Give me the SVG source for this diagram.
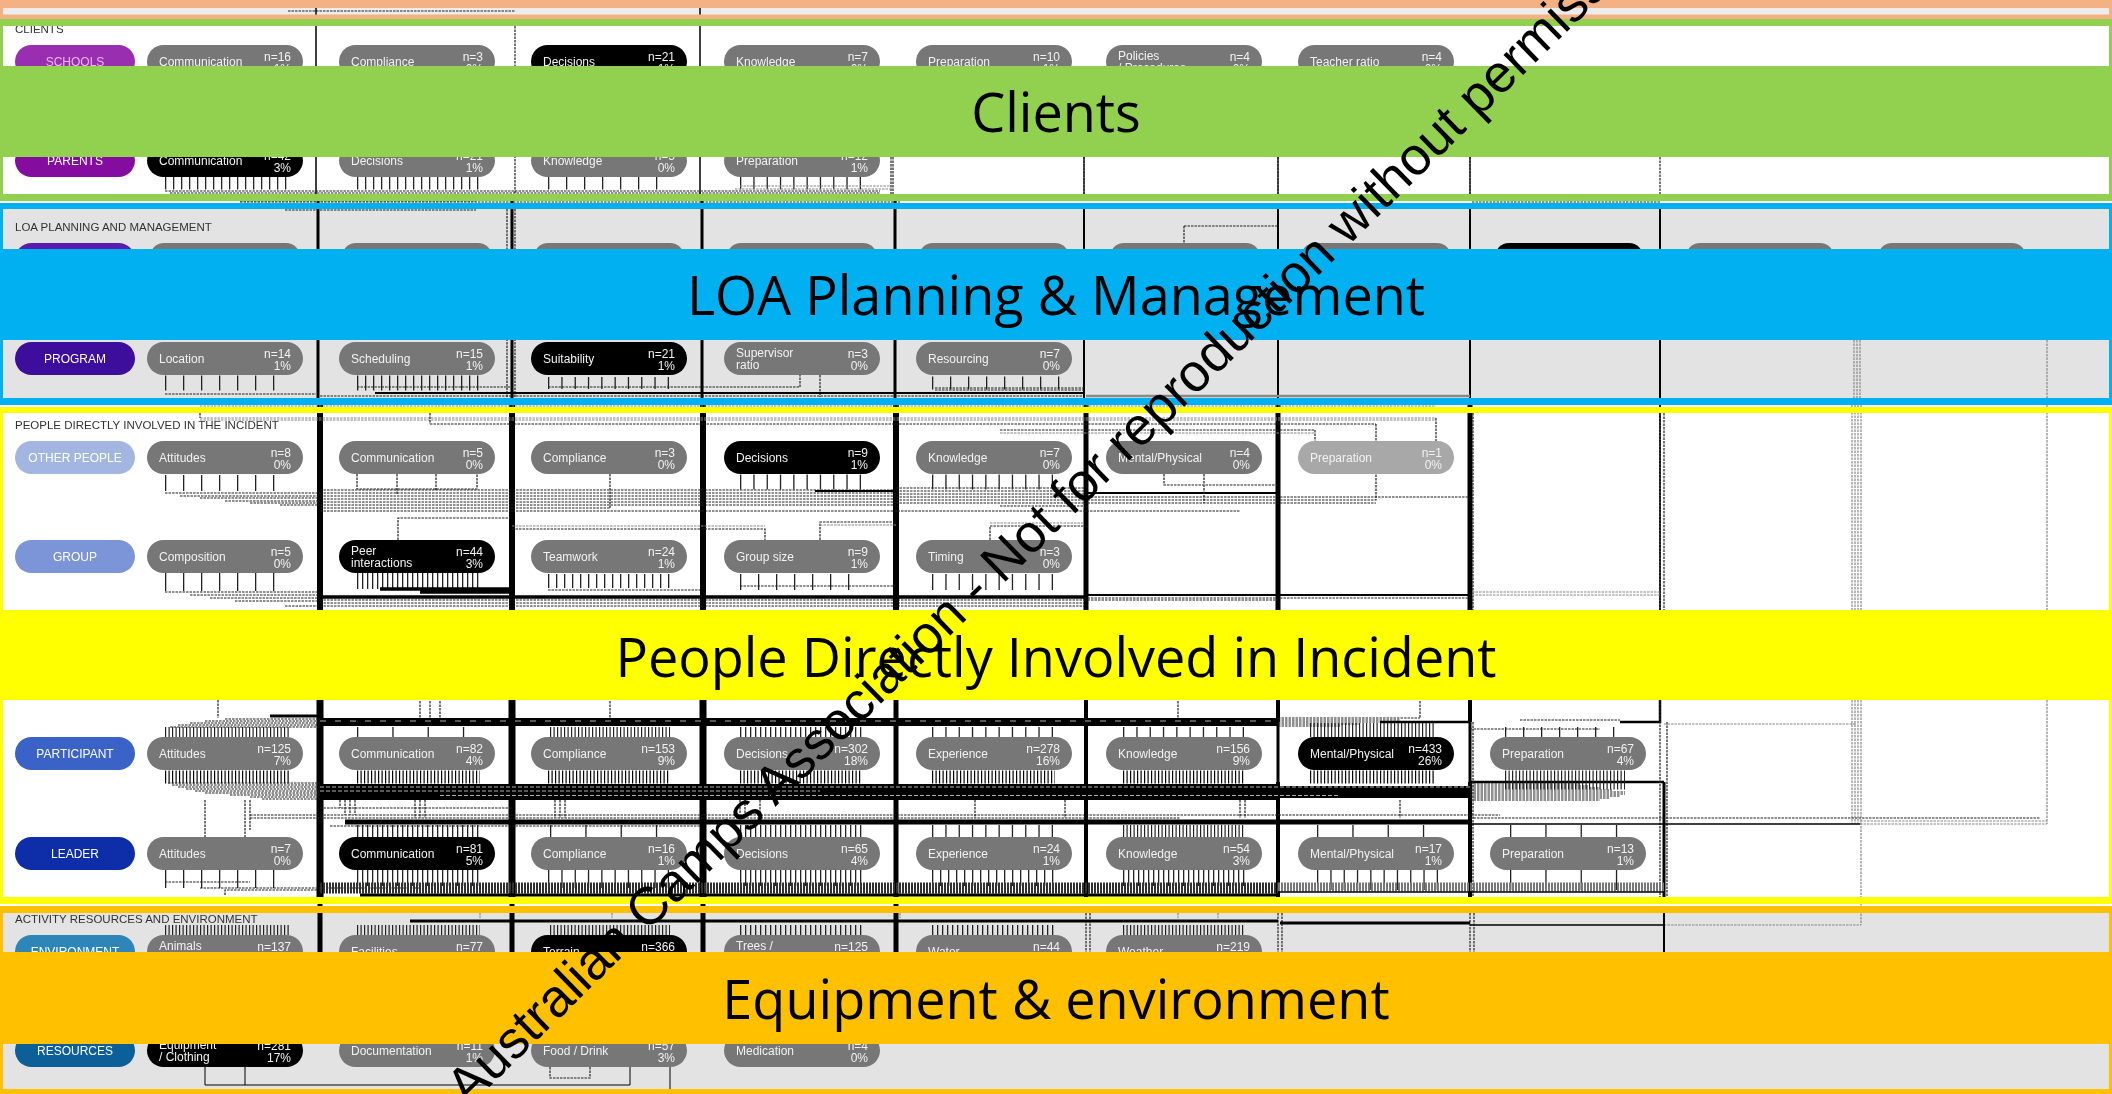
<svg xmlns="http://www.w3.org/2000/svg" width="2112" height="1094" viewBox="0 0 2112 1094">
<style>
text{font-family:"Liberation Sans",Arial,sans-serif}
.t{font-size:12px;fill:#f2f2f2}
.e{text-anchor:end}
.l{font-size:12px;fill:#fff;text-anchor:middle}
.h{font-size:11.5px;fill:#333}
.p{fill:#777}
.pb{fill:#000}
.v,.c,.k,.d,.g{fill:none}
.k{stroke:#000}
.d{stroke:#222;stroke-width:1.2;stroke-dasharray:2.5 1}
.g{stroke:#888;stroke-width:1.2;stroke-dasharray:2.5 1}
.c{stroke:#222}
.c3{stroke-dasharray:1.2 2.3}
.c5{stroke-dasharray:1.3 3.7}
.c8{stroke-dasharray:1.3 6.7}
.c13{stroke-dasharray:1.3 12}
.c18{stroke-dasharray:1.3 16.7}
.c35{stroke-dasharray:1.3 34}
.band{font-family:"Open Sans","Noto Sans",sans-serif;font-size:54px;fill:#000;text-anchor:middle}
.wm{font-family:"Liberation Sans",Arial,sans-serif;font-size:53px;fill:#000}
</style>
<defs><filter id="soft" x="0" y="0" width="100%" height="100%"><feGaussianBlur stdDeviation="0.7"/></filter></defs>
<rect width="2112" height="1094" fill="#fff"/>
<g id="diagram" filter="url(#soft)">
<g id="regions">
<rect x="0" y="8" width="2112" height="7" fill="#ececec"/>
<rect x="0" y="209" width="2112" height="189" fill="#e3e3e3"/>
<rect x="0" y="913" width="2112" height="176" fill="#e3e3e3"/>
</g>
<g id="connectors">
<!-- top strip -->
<path class="d" d="M288 11H515"/><path class="k" stroke-width="1.5" d="M316 8V15M700 8V15"/>
<!-- columns -->
<path class="k" stroke-width="1.5" d="M316 26V194M700 26V194"/>
<path class="d" d="M515 26V194M891 157V194M893 157V194M1084 157V194M1278 157V194M1470 157V194M1660 157V194"/>
<path class="k" stroke-width="1.2" d="M1084 157V194M1278 157V194M1470 157V194"/>
<path class="k" stroke-width="3" d="M318 201V398M512 201V398M702 201V398M895 201V398"/>
<path class="d" d="M507 209V398M515 209V398"/>
<path class="k" stroke-width="2" d="M1084 209V398M1278 209V398M1470 209V398M1660 209V398"/>
<path class="g" d="M1854 340V398M1857 340V398M1860 340V398M2047 340V398"/>
<path class="k" stroke-width="6" d="M320 405V700M512 405V700M703 405V700M896 405V700"/>
<path class="k" stroke-width="5" d="M1086 405V700M1278 405V700M1470 405V700"/>
<path class="d" d="M1473 413V700M1660 405V700M1664 413V700"/>
<path class="k" stroke-width="1.5" d="M1660 405V700"/>
<path class="g" d="M1852 405V700M1855 405V700M1858 405V700M1861 405V700M2047 405V700"/>
<path class="k" stroke-width="7" d="M320 700V904M512 700V904M703 700V904"/>
<path class="k" stroke-width="5" d="M896 700V904"/>
<path class="k" stroke-width="4" d="M1086 700V904"/>
<path class="k" stroke-width="4" d="M1278 700V722M1278 782V904M1470 700V722M1470 782V904"/>
<path class="k" stroke-width="3" d="M1278 722V782M1470 722V782M1664 782V904"/>
<path class="k" stroke-width="2.5" d="M1380 722H1470M1620 722H1660V700M1470 782H1664"/>
<path class="d" d="M1473 722V904M1660 700V904M1667 722V904"/>
<path class="g" d="M1852 700V824M1855 700V824M1858 700V824M1861 700V925M2047 700V824M1664 724H1856M1664 925H1861"/>
<path class="k" stroke-width="1.5" d="M1470 824H1860"/>
<path class="g" d="M1860 824H2047M1860 821H2047"/>
<path class="k" stroke-width="5" d="M320 904V952M512 904V952M703 904V952M896 904V952"/>
<path class="d" d="M1086 906V952M1090 906V952M1278 906V952M1282 906V952M1470 906V952M1474 906V952"/>
<path class="k" stroke-width="2" d="M1664 906V952"/>
<path class="k" stroke-width="3" d="M410 921H1278M1280 923H1470"/>
<path class="k" stroke-width="1.5" d="M1470 925H1664"/>
<!-- Clients -->
<path class="d" d="M165 191H880M170 193H880M240 201H476"/>
<line class="c c8" x1="165" x2="290" y1="183" y2="183" stroke-width="13"/>
<line class="c c8" x1="357" x2="480" y1="183" y2="183" stroke-width="13"/>
<line class="c c18" x1="548" x2="670" y1="183" y2="183" stroke-width="13"/>
<line class="c c13" x1="740" x2="862" y1="183" y2="183" stroke-width="13"/>
<path class="g" d="M735 189H892M740 186H892"/>
<path class="d" d="M240 202H900M1472 202H1660"/>
<!-- LOA -->
<path class="d" d="M285 210H476"/>
<path class="d" d="M1184 226H1278M1184 226V243"/>
<line class="c c18" x1="165" x2="290" y1="383" y2="383" stroke-width="15"/>
<line class="c c8" x1="357" x2="480" y1="383" y2="383" stroke-width="15"/>
<line class="c c13" x1="548" x2="670" y1="383" y2="383" stroke-width="12"/>
<path class="d" d="M165 394H316M548 387H800V375M820 375V397M357 387H510"/>
<line class="c c18" x1="932" x2="1060" y1="383" y2="383" stroke-width="13"/>
<path class="k" stroke-width="2" d="M375 393H1084"/>
<path class="d" d="M320 396H1084M935 388H1084M935 390H1084"/>
<path class="k" stroke-width="2.5" style="stroke:#888" d="M1086 396H1470"/>
<!-- gap below LOA / top of People -->
<path class="g" d="M200 406H1436M200 418H1436M200 420H1436"/>
<path class="d" d="M430 424H1376M1376 424V441M1000 430H1315M1315 430V441M1436 418V441M200 413V418M430 413V424"/>
<path class="g" d="M1000 433H1315"/>
<!-- Other people bottom -->
<line class="c c18" x1="165" x2="290" y1="483" y2="483" stroke-width="16"/>
<path class="d" d="M357 474V489H477V474M397 474V494M436 474V490M610 474V508"/>
<line class="c c13" x1="740" x2="862" y1="482" y2="482" stroke-width="15"/>
<line class="c c13" x1="932" x2="1060" y1="482" y2="482" stroke-width="15"/>
<path class="d" d="M165 493H320M180 496H320M200 498H320M225 501H320M250 503H320M280 505H320"/>
<path class="d" d="M320 490H896M320 493H896M320 496H896M320 499H896M320 502H896M320 505H896M320 508H610M320 511H1240"/>
<path class="d" d="M896 488H1084M896 491H1084M896 494H1084M896 497H1084M896 500H1084M896 503H1084M1000 506H1084"/>
<path class="k" stroke-width="1.8" d="M815 491H896M1084 493H1278"/>
<path class="d" d="M1164 474V485H1278M1204 474V503M1084 497H1470M1084 500H1376V474M1084 503H1376"/>
<!-- Group top -->
<path class="d" d="M398 540V518H510M512 529H765V540M820 540V522H896M990 540V526H1084"/>
<path class="g" d="M512 526H765M820 525H896M990 523H1084"/>
<!-- Group bottom -->
<line class="c c18" x1="165" x2="290" y1="582" y2="582" stroke-width="18"/>
<line class="c c5" x1="357" x2="480" y1="581" y2="581" stroke-width="16"/>
<line class="c c8" x1="548" x2="670" y1="581" y2="581" stroke-width="14"/>
<line class="c c18" x1="740" x2="862" y1="582" y2="582" stroke-width="16"/>
<line class="c c13" x1="932" x2="1060" y1="582" y2="582" stroke-width="16"/>
<path class="d" d="M165 592H320M190 595H320M210 598H320M235 601H320M285 606H320"/>
<path class="k" stroke-width="3.5" d="M380 589H512M420 592H512M320 597H1084"/>
<path class="k" stroke-width="2" d="M1084 595H1470"/>
<path class="d" d="M320 600H1084M320 603H1084M320 606H1084M1084 598H1470M1084 600H1278M740 586H896M548 590H700"/>
<path class="g" d="M1472 595H1660M1472 592H1660"/>
<!-- Participant top -->
<path class="d" d="M218 700V718M420 701V718M430 701V718M440 701V718M610 701V718M1178 701V718M1420 701V718"/>
<path class="k" stroke-width="3" d="M270 716H320"/>
<path class="k" stroke-width="8" d="M320 722H1278"/>
<path class="d" d="M170 727H320M178 725H320M190 723H320M205 721H320M225 719H320M1278 718H1420M1278 720H1400M1278 722H1380M1278 724H1360M1278 726H1340M1470 729H1600M1520 720H1620"/>
<line x1="320" x2="1278" y1="721" y2="721" stroke="#fff" stroke-width="0.7" stroke-dasharray="6 9"/>
<line class="c c3" x1="165" x2="290" y1="732" y2="732" stroke-width="10"/>
<line class="c c35" x1="357" x2="480" y1="732" y2="732" stroke-width="10"/>
<line class="c c3" x1="550" x2="670" y1="732" y2="732" stroke-width="10"/>
<line class="c c5" x1="740" x2="862" y1="732" y2="732" stroke-width="10"/>
<line class="c c13" x1="932" x2="1055" y1="732" y2="732" stroke-width="10"/>
<line class="c c13" x1="1123" x2="1245" y1="732" y2="732" stroke-width="10"/>
<line class="c c3" x1="1310" x2="1435" y1="730" y2="730" stroke-width="14"/>
<line class="c c18" x1="1505" x2="1625" y1="732" y2="732" stroke-width="10"/>
<!-- Participant bottom -->
<line class="c c3" x1="165" x2="290" y1="777" y2="777" stroke-width="13" style="stroke:#000"/>
<line class="c c3" x1="357" x2="480" y1="777" y2="777" stroke-width="13" style="stroke:#000"/>
<line class="c c3" x1="548" x2="670" y1="777" y2="777" stroke-width="13" style="stroke:#000"/>
<line class="c c3" x1="740" x2="862" y1="777" y2="777" stroke-width="13" style="stroke:#000"/>
<line class="c c3" x1="932" x2="1055" y1="777" y2="777" stroke-width="13" style="stroke:#000"/>
<line class="c c3" x1="1123" x2="1245" y1="777" y2="777" stroke-width="13" style="stroke:#000"/>
<line class="c c3" x1="1310" x2="1435" y1="777" y2="777" stroke-width="13" style="stroke:#000"/>
<line class="c c3" x1="1505" x2="1625" y1="780" y2="780" stroke-width="19" style="stroke:#222"/>
<path class="d" d="M168 783H320M172 785H320M178 787H320M186 789H320M195 791H320M205 793H320M230 795H320M250 797H320M262 799H320"/>
<path class="k" stroke-width="16" d="M320 792H1280"/>
<path class="k" stroke-width="12" d="M1280 792H1470"/>
<path class="d" d="M1470 784H1580M1470 786H1590M1470 788H1600M1470 790H1612M1470 792H1625M1470 794H1625M1470 796H1620M1470 798H1610M1470 800H1600"/>
<path stroke="#ddd" stroke-width="0.8" stroke-dasharray="4 2" fill="none" d="M320 787H1470M440 795.500H1340M320 791H820"/>
<!-- between rows -->
<path class="d" d="M250 800V830M205 800V837M245 800V837M340 800V808M345 800V815M350 800V815M355 800V815M415 800V818M420 800V818M425 800V818M555 800V818M560 800V818M565 800V818M740 800V818M745 800V818M760 800V818M975 800V818M1065 800V818M1240 800V818M1245 800V818M1400 800V818"/>
<path class="d" d="M250 815H512M250 818H512M320 808H512M512 815H1500M512 818H1180"/>
<path class="k" stroke-width="5" d="M345 822H1470"/>
<path class="d" d="M330 826H700M1470 818H2040"/>
<!-- Leader top -->
<line class="c c5" x1="357" x2="480" y1="831" y2="831" stroke-width="12"/>
<line class="c c35" x1="550" x2="670" y1="831" y2="831" stroke-width="12"/>
<line class="c c5" x1="740" x2="862" y1="831" y2="831" stroke-width="12"/>
<line class="c c13" x1="932" x2="1055" y1="831" y2="831" stroke-width="12"/>
<line class="c c3" x1="1123" x2="1245" y1="831" y2="831" stroke-width="12"/>
<line class="c c35" x1="1317" x2="1440" y1="831" y2="831" stroke-width="12"/>
<line class="c c35" x1="1510" x2="1625" y1="831" y2="831" stroke-width="12"/>
<!-- Leader bottom -->
<line class="c c18" x1="165" x2="290" y1="879" y2="879" stroke-width="18"/>
<line class="c c5" x1="357" x2="480" y1="878" y2="878" stroke-width="16"/>
<line class="c c13" x1="548" x2="670" y1="879" y2="879" stroke-width="18"/>
<line class="c c5" x1="740" x2="862" y1="878" y2="878" stroke-width="16"/>
<line class="c c8" x1="932" x2="1055" y1="878" y2="878" stroke-width="16"/>
<line class="c c5" x1="1123" x2="1245" y1="878" y2="878" stroke-width="16"/>
<line class="c c13" x1="1317" x2="1440" y1="880" y2="880" stroke-width="20"/>
<line class="c c35" x1="1510" x2="1625" y1="880" y2="880" stroke-width="20"/>
<path class="d" d="M165 882H250M200 888H420M225 895V890H320"/>
<line x1="320" x2="1278" y1="888" y2="888" stroke="#333" stroke-width="11" stroke-dasharray="2 1"/>
<line x1="1278" x2="1664" y1="887" y2="887" stroke="#777" stroke-width="9" stroke-dasharray="2 1"/>
<path class="k" stroke-width="3" d="M360 895H1278"/>
<path class="k" stroke-width="1.5" d="M1278 892H1664"/>
<!-- Activity top -->
<path class="g" d="M480 906V918M612 906V918M900 906V918M1178 906V918M1218 906V918"/>
<line class="c c3" x1="165" x2="290" y1="930" y2="930" stroke-width="10"/>
<line class="c c3" x1="357" x2="480" y1="930" y2="930" stroke-width="10"/>
<line class="c c3" x1="550" x2="670" y1="930" y2="930" stroke-width="10"/>
<line class="c c5" x1="740" x2="862" y1="930" y2="930" stroke-width="10"/>
<line class="c c5" x1="932" x2="1055" y1="930" y2="930" stroke-width="10"/>
<line class="c c3" x1="1123" x2="1245" y1="930" y2="930" stroke-width="10"/>
<!-- Resources -->
<path class="k" stroke-width="1" d="M205 1067V1085H630V1067M245 1067V1085M670 1067V1089"/>
<path class="d" d="M550 1067V1078H590V1067"/>
</g>
<g id="label-clients"><text class="h" x="15" y="33">CLIENTS</text></g>
<g id="label-loa"><text class="h" x="15" y="231">LOA PLANNING AND MANAGEMENT</text></g>
<g id="label-people"><text class="h" x="15" y="429">PEOPLE DIRECTLY INVOLVED IN THE INCIDENT</text></g>
<g id="label-activity"><text class="h" x="15" y="923">ACTIVITY RESOURCES AND ENVIRONMENT</text></g>
<!-- row headers -->
<g id="schools"><rect x="15" y="45" width="120" height="33" rx="16.5" fill="#9a2eb0"/><text class="l" x="75" y="66" style="fill:#eab8f0">SCHOOLS</text></g>
<g id="parents"><rect x="15" y="144" width="120" height="33" rx="16.5" fill="#8410a0"/><text class="l" x="75" y="165">PARENTS</text></g>
<g id="planning"><rect x="15" y="243" width="120" height="33" rx="16.5" fill="#5a1cb0"/></g>
<g id="program"><rect x="15" y="342" width="120" height="33" rx="16.5" fill="#3c0a9c"/><text class="l" x="75" y="363">PROGRAM</text></g>
<g id="other-people"><rect x="15" y="441" width="120" height="33" rx="16.5" fill="#a3b6e2"/><text class="l" x="75" y="462">OTHER PEOPLE</text></g>
<g id="group"><rect x="15" y="540" width="120" height="33" rx="16.5" fill="#7c95d8"/><text class="l" x="75" y="561">GROUP</text></g>
<g id="participant"><rect x="15" y="737" width="120" height="33" rx="16.5" fill="#3a62c6"/><text class="l" x="75" y="758">PARTICIPANT</text></g>
<g id="leader"><rect x="15" y="837" width="120" height="33" rx="16.5" fill="#0a2fa8"/><text class="l" x="75" y="858">LEADER</text></g>
<g id="environment"><rect x="15" y="935" width="120" height="33" rx="16.5" fill="#2f85b8"/><text class="l" x="75" y="956">ENVIRONMENT</text></g>
<g id="resources"><rect x="15" y="1034" width="120" height="33" rx="16.5" fill="#0a5e9a"/><text class="l" x="75" y="1055">RESOURCES</text></g>
<!-- Schools -->
<g id="s1" transform="translate(147 45)"><rect class="p" width="156" height="33" rx="16.5"/><text class="t" x="12" y="20.5">Communication</text><text class="t e" x="144" y="16">n=16</text><text class="t e" x="144" y="28">1%</text></g>
<g id="s2" transform="translate(339 45)"><rect class="p" width="156" height="33" rx="16.5"/><text class="t" x="12" y="20.5">Compliance</text><text class="t e" x="144" y="16">n=3</text><text class="t e" x="144" y="28">0%</text></g>
<g id="s3" transform="translate(531 45)"><rect class="pb" width="156" height="33" rx="16.5"/><text class="t" x="12" y="20.5">Decisions</text><text class="t e" x="144" y="16">n=21</text><text class="t e" x="144" y="28">1%</text></g>
<g id="s4" transform="translate(724 45)"><rect class="p" width="156" height="33" rx="16.5"/><text class="t" x="12" y="20.5">Knowledge</text><text class="t e" x="144" y="16">n=7</text><text class="t e" x="144" y="28">0%</text></g>
<g id="s5" transform="translate(916 45)"><rect class="p" width="156" height="33" rx="16.5"/><text class="t" x="12" y="20.5">Preparation</text><text class="t e" x="144" y="16">n=10</text><text class="t e" x="144" y="28">1%</text></g>
<g id="s6" transform="translate(1106 45)"><rect class="p" width="156" height="33" rx="16.5"/><text class="t" x="12" y="15">Policies</text><text class="t" x="12" y="27">/ Procedures</text><text class="t e" x="144" y="16">n=4</text><text class="t e" x="144" y="28">0%</text></g>
<g id="s7" transform="translate(1298 45)"><rect class="p" width="156" height="33" rx="16.5"/><text class="t" x="12" y="20.5">Teacher ratio</text><text class="t e" x="144" y="16">n=4</text><text class="t e" x="144" y="28">0%</text></g>
<!-- Parents -->
<g id="pa1" transform="translate(147 144)"><rect class="pb" width="156" height="33" rx="16.5"/><text class="t" x="12" y="20.5">Communication</text><text class="t e" x="144" y="16">n=42</text><text class="t e" x="144" y="28">3%</text></g>
<g id="pa2" transform="translate(339 144)"><rect class="p" width="156" height="33" rx="16.5"/><text class="t" x="12" y="20.5">Decisions</text><text class="t e" x="144" y="16">n=21</text><text class="t e" x="144" y="28">1%</text></g>
<g id="pa3" transform="translate(531 144)"><rect class="p" width="156" height="33" rx="16.5"/><text class="t" x="12" y="20.5">Knowledge</text><text class="t e" x="144" y="16">n=5</text><text class="t e" x="144" y="28">0%</text></g>
<g id="pa4" transform="translate(724 144)"><rect class="p" width="156" height="33" rx="16.5"/><text class="t" x="12" y="20.5">Preparation</text><text class="t e" x="144" y="16">n=12</text><text class="t e" x="144" y="28">1%</text></g>
<!-- LOA row 1 -->
<g id="l1"><rect class="p" x="150" y="243" width="150" height="33" rx="14"/></g>
<g id="l2"><rect class="p" x="342" y="243" width="150" height="33" rx="14"/></g>
<g id="l3"><rect class="p" x="534" y="243" width="150" height="33" rx="14"/></g>
<g id="l4"><rect class="p" x="727" y="243" width="150" height="33" rx="14"/></g>
<g id="l5"><rect class="p" x="919" y="243" width="150" height="33" rx="14"/></g>
<g id="l6"><rect class="p" x="1110" y="243" width="150" height="33" rx="14"/></g>
<g id="l7"><rect class="p" x="1301" y="243" width="150" height="33" rx="14"/></g>
<g id="l8"><rect class="pb" x="1495" y="243" width="148" height="33" rx="14"/></g>
<g id="l9"><rect class="p" x="1686" y="243" width="148" height="33" rx="14"/></g>
<g id="l10"><rect class="p" x="1878" y="243" width="148" height="33" rx="14"/></g>
<!-- Program -->
<g id="pr1" transform="translate(147 342)"><rect class="p" width="156" height="33" rx="16.5"/><text class="t" x="12" y="20.5">Location</text><text class="t e" x="144" y="16">n=14</text><text class="t e" x="144" y="28">1%</text></g>
<g id="pr2" transform="translate(339 342)"><rect class="p" width="156" height="33" rx="16.5"/><text class="t" x="12" y="20.5">Scheduling</text><text class="t e" x="144" y="16">n=15</text><text class="t e" x="144" y="28">1%</text></g>
<g id="pr3" transform="translate(531 342)"><rect class="pb" width="156" height="33" rx="16.5"/><text class="t" x="12" y="20.5">Suitability</text><text class="t e" x="144" y="16">n=21</text><text class="t e" x="144" y="28">1%</text></g>
<g id="pr4" transform="translate(724 342)"><rect class="p" width="156" height="33" rx="16.5"/><text class="t" x="12" y="15">Supervisor</text><text class="t" x="12" y="27">ratio</text><text class="t e" x="144" y="16">n=3</text><text class="t e" x="144" y="28">0%</text></g>
<g id="pr5" transform="translate(916 342)"><rect class="p" width="156" height="33" rx="16.5"/><text class="t" x="12" y="20.5">Resourcing</text><text class="t e" x="144" y="16">n=7</text><text class="t e" x="144" y="28">0%</text></g>
<!-- Other people -->
<g id="o1" transform="translate(147 441)"><rect class="p" width="156" height="33" rx="16.5"/><text class="t" x="12" y="20.5">Attitudes</text><text class="t e" x="144" y="16">n=8</text><text class="t e" x="144" y="28">0%</text></g>
<g id="o2" transform="translate(339 441)"><rect class="p" width="156" height="33" rx="16.5"/><text class="t" x="12" y="20.5">Communication</text><text class="t e" x="144" y="16">n=5</text><text class="t e" x="144" y="28">0%</text></g>
<g id="o3" transform="translate(531 441)"><rect class="p" width="156" height="33" rx="16.5"/><text class="t" x="12" y="20.5">Compliance</text><text class="t e" x="144" y="16">n=3</text><text class="t e" x="144" y="28">0%</text></g>
<g id="o4" transform="translate(724 441)"><rect class="pb" width="156" height="33" rx="16.5"/><text class="t" x="12" y="20.5">Decisions</text><text class="t e" x="144" y="16">n=9</text><text class="t e" x="144" y="28">1%</text></g>
<g id="o5" transform="translate(916 441)"><rect class="p" width="156" height="33" rx="16.5"/><text class="t" x="12" y="20.5">Knowledge</text><text class="t e" x="144" y="16">n=7</text><text class="t e" x="144" y="28">0%</text></g>
<g id="o6" transform="translate(1106 441)"><rect class="p" width="156" height="33" rx="16.5"/><text class="t" x="12" y="20.5">Mental/Physical</text><text class="t e" x="144" y="16">n=4</text><text class="t e" x="144" y="28">0%</text></g>
<g id="o7" transform="translate(1298 441)"><rect width="156" height="33" rx="16.5" fill="#a8a8a8"/><text class="t" x="12" y="20.5">Preparation</text><text class="t e" x="144" y="16">n=1</text><text class="t e" x="144" y="28">0%</text></g>
<!-- Group -->
<g id="g1" transform="translate(147 540)"><rect class="p" width="156" height="33" rx="16.5"/><text class="t" x="12" y="20.5">Composition</text><text class="t e" x="144" y="16">n=5</text><text class="t e" x="144" y="28">0%</text></g>
<g id="g2" transform="translate(339 540)"><rect class="pb" width="156" height="33" rx="16.5"/><text class="t" x="12" y="15">Peer</text><text class="t" x="12" y="27">interactions</text><text class="t e" x="144" y="16">n=44</text><text class="t e" x="144" y="28">3%</text></g>
<g id="g3" transform="translate(531 540)"><rect class="p" width="156" height="33" rx="16.5"/><text class="t" x="12" y="20.5">Teamwork</text><text class="t e" x="144" y="16">n=24</text><text class="t e" x="144" y="28">1%</text></g>
<g id="g4" transform="translate(724 540)"><rect class="p" width="156" height="33" rx="16.5"/><text class="t" x="12" y="20.5">Group size</text><text class="t e" x="144" y="16">n=9</text><text class="t e" x="144" y="28">1%</text></g>
<g id="g5" transform="translate(916 540)"><rect class="p" width="156" height="33" rx="16.5"/><text class="t" x="12" y="20.5">Timing</text><text class="t e" x="144" y="16">n=3</text><text class="t e" x="144" y="28">0%</text></g>
<!-- Participant -->
<g id="p1" transform="translate(147 737)"><rect class="p" width="156" height="33" rx="16.5"/><text class="t" x="12" y="20.5">Attitudes</text><text class="t e" x="144" y="16">n=125</text><text class="t e" x="144" y="28">7%</text></g>
<g id="p2" transform="translate(339 737)"><rect class="p" width="156" height="33" rx="16.5"/><text class="t" x="12" y="20.5">Communication</text><text class="t e" x="144" y="16">n=82</text><text class="t e" x="144" y="28">4%</text></g>
<g id="p3" transform="translate(531 737)"><rect class="p" width="156" height="33" rx="16.5"/><text class="t" x="12" y="20.5">Compliance</text><text class="t e" x="144" y="16">n=153</text><text class="t e" x="144" y="28">9%</text></g>
<g id="p4" transform="translate(724 737)"><rect class="p" width="156" height="33" rx="16.5"/><text class="t" x="12" y="20.5">Decisions</text><text class="t e" x="144" y="16">n=302</text><text class="t e" x="144" y="28">18%</text></g>
<g id="p5" transform="translate(916 737)"><rect class="p" width="156" height="33" rx="16.5"/><text class="t" x="12" y="20.5">Experience</text><text class="t e" x="144" y="16">n=278</text><text class="t e" x="144" y="28">16%</text></g>
<g id="p6" transform="translate(1106 737)"><rect class="p" width="156" height="33" rx="16.5"/><text class="t" x="12" y="20.5">Knowledge</text><text class="t e" x="144" y="16">n=156</text><text class="t e" x="144" y="28">9%</text></g>
<g id="p7" transform="translate(1298 737)"><rect class="pb" width="156" height="33" rx="16.5"/><text class="t" x="12" y="20.5">Mental/Physical</text><text class="t e" x="144" y="16">n=433</text><text class="t e" x="144" y="28">26%</text></g>
<g id="p8" transform="translate(1490 737)"><rect class="p" width="156" height="33" rx="16.5"/><text class="t" x="12" y="20.5">Preparation</text><text class="t e" x="144" y="16">n=67</text><text class="t e" x="144" y="28">4%</text></g>
<!-- Leader -->
<g id="d1" transform="translate(147 837)"><rect class="p" width="156" height="33" rx="16.5"/><text class="t" x="12" y="20.5">Attitudes</text><text class="t e" x="144" y="16">n=7</text><text class="t e" x="144" y="28">0%</text></g>
<g id="d2" transform="translate(339 837)"><rect class="pb" width="156" height="33" rx="16.5"/><text class="t" x="12" y="20.5">Communication</text><text class="t e" x="144" y="16">n=81</text><text class="t e" x="144" y="28">5%</text></g>
<g id="d3" transform="translate(531 837)"><rect class="p" width="156" height="33" rx="16.5"/><text class="t" x="12" y="20.5">Compliance</text><text class="t e" x="144" y="16">n=16</text><text class="t e" x="144" y="28">1%</text></g>
<g id="d4" transform="translate(724 837)"><rect class="p" width="156" height="33" rx="16.5"/><text class="t" x="12" y="20.5">Decisions</text><text class="t e" x="144" y="16">n=65</text><text class="t e" x="144" y="28">4%</text></g>
<g id="d5" transform="translate(916 837)"><rect class="p" width="156" height="33" rx="16.5"/><text class="t" x="12" y="20.5">Experience</text><text class="t e" x="144" y="16">n=24</text><text class="t e" x="144" y="28">1%</text></g>
<g id="d6" transform="translate(1106 837)"><rect class="p" width="156" height="33" rx="16.5"/><text class="t" x="12" y="20.5">Knowledge</text><text class="t e" x="144" y="16">n=54</text><text class="t e" x="144" y="28">3%</text></g>
<g id="d7" transform="translate(1298 837)"><rect class="p" width="156" height="33" rx="16.5"/><text class="t" x="12" y="20.5">Mental/Physical</text><text class="t e" x="144" y="16">n=17</text><text class="t e" x="144" y="28">1%</text></g>
<g id="d8" transform="translate(1490 837)"><rect class="p" width="156" height="33" rx="16.5"/><text class="t" x="12" y="20.5">Preparation</text><text class="t e" x="144" y="16">n=13</text><text class="t e" x="144" y="28">1%</text></g>
<!-- Environment -->
<g id="e1" transform="translate(147 935)"><rect class="p" width="156" height="33" rx="16.5"/><text class="t" x="12" y="15">Animals</text><text class="t e" x="144" y="16">n=137</text></g>
<g id="e2" transform="translate(339 935)"><rect class="p" width="156" height="33" rx="16.5"/><text class="t" x="12" y="20.5">Facilities</text><text class="t e" x="144" y="16">n=77</text></g>
<g id="e3" transform="translate(531 935)"><rect class="pb" width="156" height="33" rx="16.5"/><text class="t" x="12" y="20.5">Terrain</text><text class="t e" x="144" y="16">n=366</text></g>
<g id="e4" transform="translate(724 935)"><rect class="p" width="156" height="33" rx="16.5"/><text class="t" x="12" y="15">Trees /</text><text class="t e" x="144" y="16">n=125</text></g>
<g id="e5" transform="translate(916 935)"><rect class="p" width="156" height="33" rx="16.5"/><text class="t" x="12" y="20.5">Water</text><text class="t e" x="144" y="16">n=44</text></g>
<g id="e6" transform="translate(1106 935)"><rect class="p" width="156" height="33" rx="16.5"/><text class="t" x="12" y="20.5">Weather</text><text class="t e" x="144" y="16">n=219</text></g>
<!-- Resources -->
<g id="r1" transform="translate(147 1034)"><rect class="pb" width="156" height="33" rx="16.5"/><text class="t" x="12" y="15">Equipment</text><text class="t" x="12" y="27">/ Clothing</text><text class="t e" x="144" y="16">n=281</text><text class="t e" x="144" y="28">17%</text></g>
<g id="r2" transform="translate(339 1034)"><rect class="p" width="156" height="33" rx="16.5"/><text class="t" x="12" y="20.5">Documentation</text><text class="t e" x="144" y="16">n=11</text><text class="t e" x="144" y="28">1%</text></g>
<g id="r3" transform="translate(531 1034)"><rect class="p" width="156" height="33" rx="16.5"/><text class="t" x="12" y="20.5">Food / Drink</text><text class="t e" x="144" y="16">n=57</text><text class="t e" x="144" y="28">3%</text></g>
<g id="r4" transform="translate(724 1034)"><rect class="p" width="156" height="33" rx="16.5"/><text class="t" x="12" y="20.5">Medication</text><text class="t e" x="144" y="16">n=4</text><text class="t e" x="144" y="28">0%</text></g>
</g>
<g id="frames">
<path fill="#F4B183" fill-rule="evenodd" d="M0 0H2112V19H0ZM3 8H2109V14.500H3Z"/>
<path fill="#92D050" fill-rule="evenodd" d="M0 19H2112V201H0ZM3 26H2109V194H3Z"/>
<path fill="#00B0F0" fill-rule="evenodd" d="M0 203H2112V405H0ZM3 209H2109V398H3Z"/>
<path fill="#FFFF00" fill-rule="evenodd" d="M0 407H2112V904H0ZM3 413H2109V897H3Z"/>
<path fill="#FFC000" fill-rule="evenodd" d="M0 906H2112V1094H0ZM3 913H2109V1089H3Z"/>
</g>
<g id="band-clients"><rect y="66" width="2112" height="91" fill="#92D050"/><text class="band" x="1056" y="132">Clients</text></g>
<g id="band-loa"><rect y="249" width="2112" height="91" fill="#00B0F0"/><text class="band" x="1056" y="315">LOA Planning &amp; Management</text></g>
<g id="band-people"><rect y="610" width="2112" height="90" fill="#FFFF00"/><text class="band" x="1056" y="677">People Directly Involved in Incident</text></g>
<g id="band-equipment"><rect y="952" width="2112" height="92" fill="#FFC000"/><text class="band" x="1056" y="1019">Equipment &amp; environment</text></g>
<g id="watermark"><text class="wm" transform="translate(468 1108) rotate(-44.4)">Australian Camps Association - Not for reproduction without permission</text></g>
</svg>
